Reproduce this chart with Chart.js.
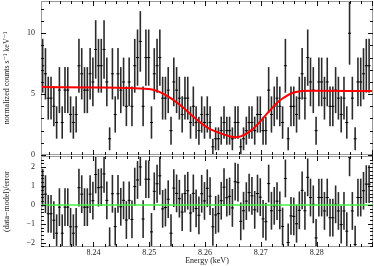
<!DOCTYPE html>
<html>
<head>
<meta charset="utf-8">
<title>Line fit</title>
<script src="https://cdn.jsdelivr.net/npm/chart.js@4"></script>
<style>
    body { margin: 0; background: #fff; }
    #wrap { position: relative; width: 374px; height: 266px; overflow: hidden; }
    canvas { position: absolute; left: 0; }
    #top { top: 0; z-index: 2; }
    #res { top: 155px; z-index: 1; }
</style>
</head>
<body>
<div id="wrap">
    <canvas id="top" width="374" height="166"></canvas>
    <canvas id="res" width="374" height="111"></canvas>
</div>
<script>
    // bin centres (keV)
    const energy = [
        8.2309, 8.2314, 8.2319, 8.2324, 8.2329, 8.2334, 8.2339, 8.2344, 8.2349, 8.2354,
        8.2359, 8.2364, 8.2369, 8.2374, 8.2379, 8.2384, 8.2389, 8.2394, 8.2399, 8.2404,
        8.2409, 8.2414, 8.2419, 8.2424, 8.2429, 8.2434, 8.2439, 8.2444, 8.2449, 8.2454,
        8.2459, 8.2464, 8.2469, 8.2474, 8.2479, 8.2484, 8.2489, 8.2494, 8.2499, 8.2504,
        8.2509, 8.2514, 8.2519, 8.2524, 8.2529, 8.2534, 8.2539, 8.2544, 8.2549, 8.2554,
        8.2559, 8.2564, 8.2569, 8.2574, 8.2579, 8.2584, 8.2589, 8.2594, 8.2599, 8.2604,
        8.2609, 8.2614, 8.2619, 8.2624, 8.2629, 8.2634, 8.2639, 8.2644, 8.2649, 8.2654,
        8.2659, 8.2664, 8.2669, 8.2674, 8.2679, 8.2684, 8.2689, 8.2694, 8.2699, 8.2704,
        8.2709, 8.2714, 8.2719, 8.2724, 8.2729, 8.2734, 8.2739, 8.2744, 8.2749, 8.2754,
        8.2759, 8.2764, 8.2769, 8.2774, 8.2779, 8.2784, 8.2789, 8.2794, 8.2799, 8.2804,
        8.2809, 8.2814, 8.2819, 8.2824, 8.2829, 8.2834, 8.2839, 8.2844, 8.2849, 8.2854,
        8.2859, 8.2864, 8.2869, 8.2874, 8.2879, 8.2884, 8.2889, 8.2894
    ];
    // normalized counts s^-1 keV^-1
    const rate = [
        7.33, 6.67, 4.67, 4.67, 4.00, 2.67, 5.33, 2.67, 5.33, 5.33,
        3.33, 2.67, 3.33, 7.33, 6.67, 5.33, 5.33, 6.67, 6.00, 8.67,
        7.33, 7.33, 8.67, 6.00, 1.33, 6.67, 3.33, 6.67, 5.33, 6.00,
        4.00, 6.00, 4.00, 7.33, 8.00, 9.33, 4.00, 8.00, 8.00, 2.67,
        6.67, 7.33, 8.00, 4.67, 4.67, 5.33, 2.00, 6.00, 5.33, 4.67,
        3.33, 4.67, 4.67, 2.67, 4.00, 2.67, 2.00, 3.33, 2.67, 3.33,
        2.67, 0.67, 1.33, 1.33, 2.00, 2.67, 2.00, 2.00, 1.33, 2.67,
        2.67, 0.67, 1.33, 2.00, 2.67, 2.67, 2.00, 3.33, 3.33, 2.00,
        2.00, 5.33, 3.33, 4.00, 4.67, 4.00, 2.67, 7.33, 1.33, 4.00,
        4.00, 3.33, 4.67, 6.67, 4.67, 8.00, 6.00, 5.33, 2.00, 6.00,
        6.00, 4.67, 6.00, 4.00, 4.00, 5.33, 4.67, 3.33, 4.67, 2.67,
        10.00, 4.67, 1.33, 6.00, 6.00, 6.67, 7.33, 7.33
    ];
    const rateErr = [
        2.21, 2.11, 1.76, 1.76, 1.63, 1.33, 1.89, 1.33, 1.89, 1.89,
        1.49, 1.33, 1.49, 2.21, 2.11, 1.89, 1.89, 2.11, 2.00, 2.40,
        2.21, 2.21, 2.40, 2.00, 0.94, 2.11, 1.49, 2.11, 1.89, 2.00,
        1.63, 2.00, 1.63, 2.21, 2.31, 2.49, 1.63, 2.31, 2.31, 1.33,
        2.11, 2.21, 2.31, 1.76, 1.76, 1.89, 1.15, 2.00, 1.89, 1.76,
        1.49, 1.76, 1.76, 1.33, 1.63, 1.33, 1.15, 1.49, 1.33, 1.49,
        1.33, 0.67, 0.94, 0.94, 1.15, 1.33, 1.15, 1.15, 0.94, 1.33,
        1.33, 0.67, 0.94, 1.15, 1.33, 1.33, 1.15, 1.49, 1.49, 1.15,
        1.15, 1.89, 1.49, 1.63, 1.76, 1.63, 1.33, 2.21, 0.94, 1.63,
        1.63, 1.49, 1.76, 2.11, 1.76, 2.31, 2.00, 1.89, 1.15, 2.00,
        2.00, 1.76, 2.00, 1.63, 1.63, 1.89, 1.76, 1.49, 1.76, 1.33,
        2.58, 1.76, 0.94, 2.00, 2.00, 2.11, 2.21, 2.21
    ];
    // (data-model)/error, one sigma bars
    const resid = [
        0.91, 0.57, -0.47, -0.47, -0.81, -1.50, -0.12, -1.50, -0.12, -0.12,
        -1.16, -1.50, -1.16, 0.91, 0.57, -0.12, -0.12, 0.57, 0.22, 1.61,
        0.91, 0.94, 1.64, 0.24, -2.19, 0.59, -1.15, 0.59, -0.10, 0.24,
        -0.80, 0.24, -0.77, 0.97, 1.32, 2.01, -0.75, 1.36, 1.36, -1.43,
        0.72, 1.12, 1.54, -0.21, -0.14, 0.30, -1.50, 0.89, 0.61, 0.33,
        -0.38, 0.60, 0.75, -0.43, 0.61, -0.19, -0.55, 0.59, 0.21, 0.88,
        0.46, -1.16, -0.53, -0.46, 0.22, 0.94, 0.38, 0.45, -0.16, 1.23,
        1.18, -0.87, -0.31, 0.20, 0.65, 0.48, -0.26, 0.60, 0.41, -0.74,
        -0.89, 1.13, -0.31, -0.05, 0.20, -0.29, -1.14, 1.40, -1.99, -0.58,
        -0.61, -1.00, -0.29, 0.77, -0.31, 1.46, 0.39, 0.03, -1.75, 0.39,
        0.39, -0.32, 0.39, -0.68, -0.68, 0.03, -0.32, -1.04, -0.32, -1.39,
        2.52, -0.32, -2.10, 0.39, 0.39, 0.75, 1.10, 1.10
    ];
    // fitted model (absorption line)
    const modelEnergy = [8.2306, 8.2410, 8.2465, 8.2505, 8.2523, 8.2541, 8.2559, 8.2577, 8.2595, 8.2609,
        8.2623, 8.2641, 8.2654, 8.2665, 8.2682, 8.2700, 8.2709, 8.2718, 8.2729, 8.2742,
        8.2754, 8.2765, 8.2790, 8.2902];
    const modelRate = [5.58, 5.55, 5.50, 5.38, 5.08, 4.59, 3.96, 3.22, 2.54, 2.13,
        1.86, 1.58, 1.45, 1.55, 2.00, 2.80, 3.30, 3.75, 4.30, 4.73,
        5.05, 5.20, 5.27, 5.25];

    const xTicks = [8.24, 8.25, 8.26, 8.27, 8.28];
    const rateTicks = [0, 5, 10];
    const residTicks = [-2, -1, 0, 1, 2];
    const xMin = 8.2306, xMax = 8.2901;

    Chart.defaults.font.family = '"Liberation Serif", "DejaVu Serif", serif';
    Chart.defaults.font.size = 8;
    Chart.defaults.color = '#222';

    // grey box with inward ticks on all four sides
    const frame = {
        id: 'frame',
        afterDatasetsDraw(chart, args, opts) {
            const {ctx, chartArea: a, scales: {x, y}} = chart;
            ctx.save();
            ctx.lineWidth = 1;
            ctx.strokeStyle = '#9a9a9a';
            ctx.strokeRect(a.left + 0.5, a.top + 0.5, a.right - a.left - 1, a.bottom - a.top - 1);
            ctx.strokeStyle = '#111';
            ctx.beginPath();
            for (let k = Math.ceil(x.min / 0.002); k * 0.002 <= x.max; k++) {
                const px = Math.round(x.getPixelForValue(k * 0.002)) + 0.5;
                const len = k % 5 === 0 ? 5 : 3;
                ctx.moveTo(px, a.top); ctx.lineTo(px, a.top + len);
                ctx.moveTo(px, a.bottom); ctx.lineTo(px, a.bottom - len);
            }
            const s = opts.step;
            for (let k = Math.ceil(y.min / s); k * s <= y.max; k++) {
                const py = Math.round(y.getPixelForValue(k * s)) + 0.5;
                const len = k % opts.major === 0 ? 5 : 3;
                ctx.moveTo(a.left, py); ctx.lineTo(a.left + len, py);
                ctx.moveTo(a.right, py); ctx.lineTo(a.right - len, py);
            }
            ctx.stroke();
            ctx.restore();
        }
    };

    // fixed axis sizes so both panels share the same plot box
    const fixWidth = s => { s.width = 41; s.paddingTop = 0; s.paddingBottom = 0; };

    const common = {
        responsive: false,
        animation: false,
        devicePixelRatio: 1,
        events: [],
        plugins: { legend: { display: false }, tooltip: { enabled: false } }
    };

    new Chart(document.getElementById('top'), {
        type: 'scatter',
        plugins: [frame],
        data: {
            datasets: [
                {
                    type: 'line',
                    data: modelEnergy.map((e, i) => ({x: e, y: modelRate[i]})),
                    borderColor: '#ff0000', borderWidth: 2, pointRadius: 0, pointHoverRadius: 0,
                    cubicInterpolationMode: 'monotone', clip: 0
                },
                {
                    data: energy.map((e, i) => ({x: e, y: rate[i]})),
                    pointStyle: 'line', pointRadius: 1.5, pointHoverRadius: 0,
                    borderColor: '#000', borderWidth: 1, clip: 0
                },
                {
                    type: 'bar',
                    data: energy.map((e, i) => ({x: e, y: [rate[i] - rateErr[i], rate[i] + rateErr[i]]})),
                    backgroundColor: '#2b2b2b', barThickness: 1.6, inflateAmount: 0, clip: 0
                }
            ]
        },
        options: {
            ...common,
            // extra bottom room so the "0" label is not cut; plot box still ends at y=155
            layout: { autoPadding: false, padding: { left: 0, right: 1, top: 1, bottom: 11 } },
            plugins: { ...common.plugins, frame: { step: 1, major: 5 } },
            scales: {
                x: { type: 'linear', min: xMin, max: xMax, offset: false, display: false },
                y: {
                    min: 0, max: 12.65,
                    afterFit: fixWidth,
                    afterBuildTicks: s => { s.ticks = rateTicks.map(v => ({value: v})); },
                    grid: { display: false, drawTicks: false },
                    border: { display: false },
                    ticks: { padding: 6 },
                    title: { display: true, text: 'normalized counts s\u207B\u00B9 keV\u207B\u00B9', padding: { top: 2, bottom: 0 } }
                }
            }
        }
    });

    new Chart(document.getElementById('res'), {
        type: 'scatter',
        plugins: [frame],
        data: {
            datasets: [
                {
                    type: 'line',
                    data: [{x: xMin, y: 0}, {x: xMax, y: 0}],
                    borderColor: '#44f044', borderWidth: 1.5, pointRadius: 0, pointHoverRadius: 0, clip: 0
                },
                {
                    data: energy.map((e, i) => ({x: e, y: resid[i]})),
                    pointStyle: 'line', pointRadius: 1.5, pointHoverRadius: 0,
                    borderColor: '#000', borderWidth: 1, clip: 0
                },
                {
                    type: 'bar',
                    data: energy.map((e, i) => ({x: e, y: [resid[i] - 1, resid[i] + 1]})),
                    backgroundColor: '#2b2b2b', barThickness: 1.6, inflateAmount: 0, clip: 0
                }
            ]
        },
        options: {
            ...common,
            layout: { autoPadding: false, padding: { left: 0, right: 1, top: 1, bottom: 0 } },
            plugins: { ...common.plugins, frame: { step: 0.2, major: 5 } },
            scales: {
                x: {
                    type: 'linear', min: xMin, max: xMax, offset: false,
                    afterFit: s => { s.height = 19; s.paddingLeft = 0; s.paddingRight = 0; },
                    afterBuildTicks: s => { s.ticks = xTicks.map(v => ({value: v})); },
                    grid: { display: false, drawTicks: false },
                    border: { display: false },
                    ticks: { padding: 1, maxRotation: 0, callback: v => v.toFixed(2) },
                    title: { display: true, text: 'Energy (keV)', padding: { top: 0, bottom: 0 } }
                },
                y: {
                    min: -2.23, max: 2.59,
                    afterFit: fixWidth,
                    afterBuildTicks: s => { s.ticks = residTicks.map(v => ({value: v})); },
                    grid: { display: false, drawTicks: false },
                    border: { display: false },
                    ticks: { padding: 6, callback: v => v < 0 ? '\u2212' + Math.abs(v) : String(v) },
                    title: { display: true, text: '(data\u2212model)/error', padding: { top: 2, bottom: 0 } }
                }
            }
        }
    });
</script>
</body>
</html>
